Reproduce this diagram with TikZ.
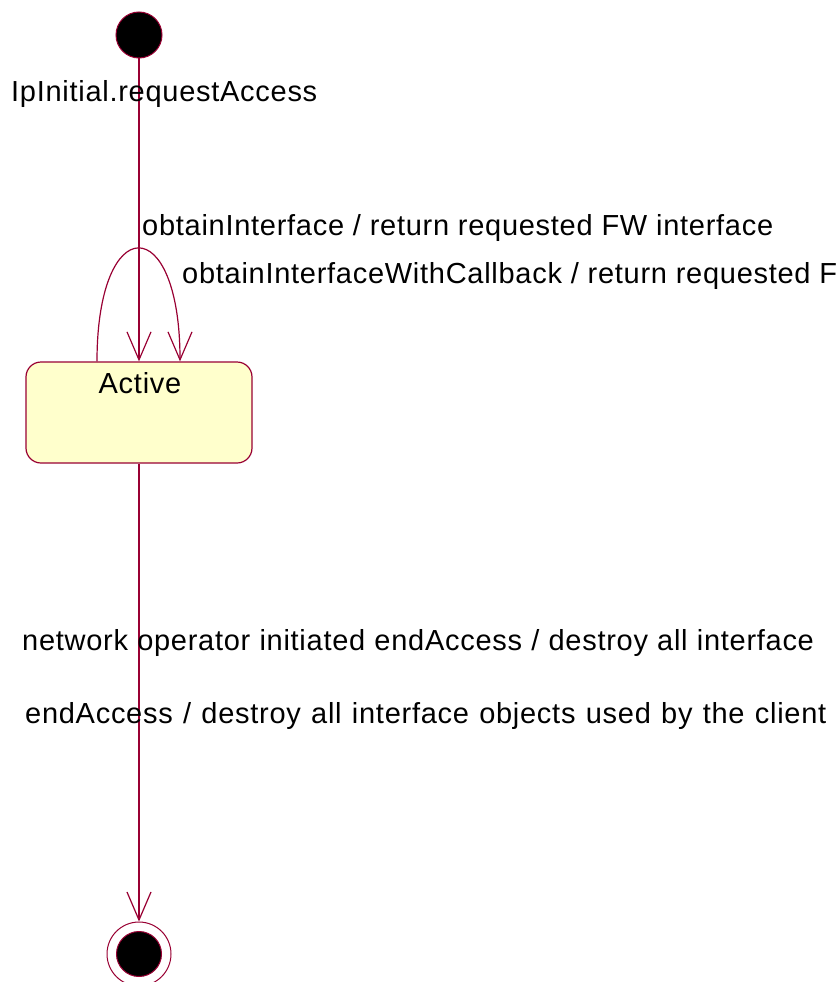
\documentclass[tikz,border=0pt]{standalone}
\usepackage{fontspec}
\setmainfont{Liberation Sans}
\newfontfamily\lblfont{Liberation Sans}[LetterSpace=2.5]
\usetikzlibrary{arrows.meta}
\definecolor{rose}{RGB}{153,0,51}
\definecolor{stfill}{RGB}{255,255,204}
\begin{document}
\begin{tikzpicture}[x=1pt,y=-1pt,
  conn/.style={draw=rose, line width=1.2pt},
  tip/.style={-{Straight Barb[length=28pt,width=24pt,line width=1.2pt]}},
  lbl/.style={anchor=base west, inner sep=0pt, font=\lblfont\fontsize{29}{34}\selectfont, text=black},
  statebox/.style={draw=rose, line width=1.2pt, fill=stfill, rounded corners=15pt, minimum width=226pt, minimum height=101pt, inner sep=0pt},
  initdot/.style={circle, draw=rose, line width=1pt, fill=black, inner sep=0pt}]
\useasboundingbox (0,0) rectangle (840,982);
\fill[white] (0,0) rectangle (840,982);
% states
\node[initdot, minimum size=46pt] (init) at (139,35) {};
\node[statebox] (active) at (139,412.5) {};
\node[lbl, anchor=base] (activelbl) at (140,393) {Active};
\node[circle, draw=rose, line width=1pt, minimum size=64pt, inner sep=0pt] (final) at (139,954) {};
\node[initdot, minimum size=45pt] (finalin) at (139,954) {};
% connectors
\draw[conn,tip] (init) -- (active);
\draw[conn,tip] ([xshift=-42pt]active.north) .. controls +(0,-151) and +(0,-151) .. ([xshift=41pt]active.north);
\draw[conn,tip] (active.south) -- (final);
% labels
\node[lbl] (l1) at (11,101) {IpInitial.requestAccess};
\node[lbl] (l2) at (142,235) {obtainInterface / return requested FW interface};
\node[lbl] (l3) at (182,283) {obtainInterfaceWithCallback / return requested F};
\node[lbl] (l4) at (22,650) {\spaceskip=9.2pt network operator initiated endAccess / destroy all interface};
\node[lbl] (l5) at (25,723) {\spaceskip=10.3pt endAccess / destroy all interface objects used by the client};
\end{tikzpicture}
\end{document}
